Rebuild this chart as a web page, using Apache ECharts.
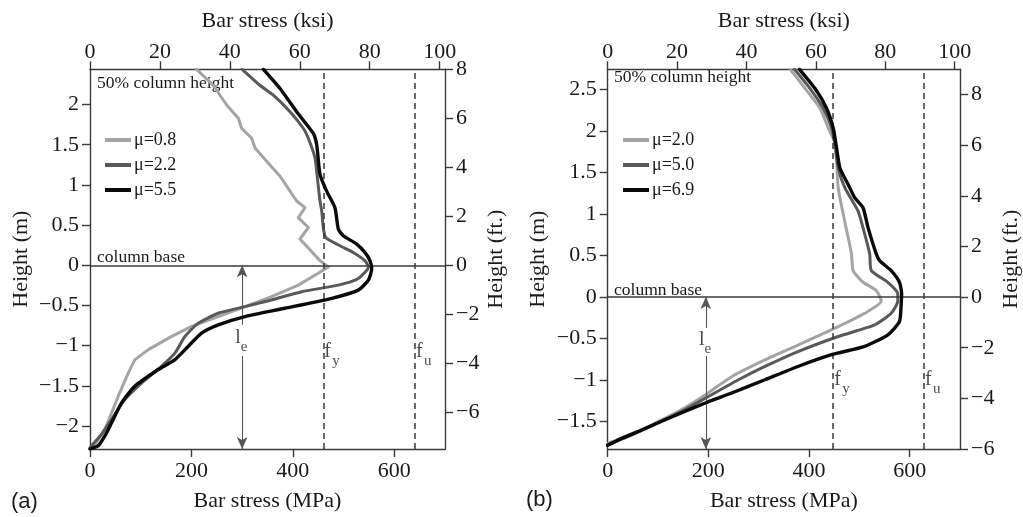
<!DOCTYPE html>
<html><head><meta charset="utf-8">
<script src="https://cdn.jsdelivr.net/npm/echarts@6/dist/echarts.min.js"></script>
<style>html,body{margin:0;padding:0;background:#fff}#c{width:1023px;height:517px}</style>
</head><body><div id="c"></div>
<script>
// ---------- data ----------
const MPA_PER_KSI = 6.895;
const M_PER_FT = 0.3048;

// panel (a): [bar stress (MPa), height (m)]
const aNames = ['μ=0.8', 'μ=2.2', 'μ=5.5'];
const aMu08 = [[210,2.438],[243,2.24],[269.5,1.994],[292.5,1.83],[299,1.705],[318.8,1.58],[325.4,1.458],[348.4,1.293],[374.7,1.108],[394.4,0.923],[407.5,0.80],[424,0.717],[410.8,0.593],[430.5,0.47],[414,0.326],[453.5,0.058],[470,-0.02],[450,-0.10],[410.8,-0.247],[358,-0.39],[305.6,-0.514],[253,-0.638],[200.5,-0.761],[161,-0.885],[115,-1.05],[88.7,-1.174],[75.6,-1.338],[55.9,-1.626],[42.8,-1.832],[29.6,-2.04],[13,-2.2],[0,-2.265]];
const aMu22 = [[300,2.438],[335,2.24],[361.5,2.117],[394.4,1.911],[420.6,1.705],[430.5,1.58],[443.7,1.334],[448.3,1.087],[453.5,0.80],[456.9,0.676],[460,0.47],[464.7,0.346],[493,0.243],[519,0.16],[542,0.058],[549,-0.02],[529,-0.164],[489.7,-0.247],[417.5,-0.329],[358,-0.432],[305.6,-0.514],[253,-0.597],[213.6,-0.72],[187.3,-0.885],[167.6,-1.09],[141.3,-1.255],[102,-1.462],[69,-1.668],[42.8,-1.915],[23,-2.1],[3.3,-2.244],[0,-2.28]];
const aMu55 = [[342,2.438],[374.7,2.20],[407.5,1.91],[440,1.643],[447,1.50],[453.5,1.13],[466.6,0.923],[483,0.717],[489.7,0.45],[499.5,0.367],[525.8,0.264],[542,0.16],[552,0.058],[555.5,-0.04],[549,-0.185],[529,-0.309],[476.6,-0.411],[384.5,-0.535],[305.6,-0.638],[253,-0.741],[220,-0.844],[193.9,-1.008],[167.6,-1.174],[134.8,-1.297],[88.7,-1.503],[62.5,-1.709],[42.8,-1.956],[29.6,-2.12],[16.4,-2.244],[0,-2.286]];
const aFy = 460, aFu = 641, aLe = 300;
const aHeightFt = [-7.5, 8];

// panel (b)
const bNames = ['μ=2.0', 'μ=5.0', 'μ=6.9'];
const bMu20 = [[362.8,2.743],[392.4,2.511],[422,2.272],[438.4,2.033],[450.2,1.873],[454.8,1.634],[458,1.315],[468,0.997],[477.8,0.717],[484.4,0.519],[487.7,0.319],[507.4,0.179],[533.7,0.08],[543.5,-0.048],[510.7,-0.195],[451.6,-0.374],[379.2,-0.574],[313.5,-0.753],[247.7,-0.952],[195.2,-1.172],[142.6,-1.37],[103,-1.49],[50.5,-1.65],[4.5,-1.75],[0,-1.77]];
const bMu50 = [[371,2.743],[402,2.511],[428.5,2.272],[445,2.033],[452.8,1.793],[458,1.554],[471.3,1.315],[497.5,1.036],[510.7,0.758],[520.6,0.519],[523.8,0.319],[556.7,0.179],[576.4,0.04],[576.4,-0.048],[563.2,-0.195],[530.5,-0.335],[458,-0.474],[379.2,-0.653],[313.5,-0.832],[260.9,-0.992],[201.7,-1.191],[149,-1.37],[105,-1.50],[55,-1.64],[20,-1.73],[0,-1.78]];
const bMu69 = [[381,2.743],[412,2.511],[435,2.272],[448.2,2.033],[454.8,1.793],[461.4,1.554],[477.8,1.356],[491,1.196],[507.4,1.076],[517.3,0.837],[533.7,0.519],[540.3,0.439],[563.2,0.319],[579.7,0.179],[584,0.04],[583,-0.096],[579.7,-0.294],[556.7,-0.454],[510.7,-0.593],[444.9,-0.693],[379.2,-0.832],[313.5,-0.992],[247.7,-1.152],[195.2,-1.272],[116.3,-1.47],[63.7,-1.609],[24.3,-1.71],[0,-1.785]];
const bFy = 448, bFu = 628.5, bLe = 195;
const bHeightFt = [-6, 9];

// ticks
const stressTicksMPa = [0, 200, 400, 600];
const stressTicksKsi = [0, 20, 40, 60, 80, 100];
const aTicksM = [-2, -1.5, -1, -0.5, 0, 0.5, 1, 1.5, 2];
const bTicksM = [-1.5, -1, -0.5, 0, 0.5, 1, 1.5, 2, 2.5];
const ticksFt = [-6, -4, -2, 0, 2, 4, 6, 8];
const STRESS_MAX = 700;

// ---------- styling ----------
const SERIF = 'Liberation Serif';
const SANS = 'Liberation Sans';
const INK = '#1a1a1a';
const FRAME = '#3a3a3a';
const COLORS = ['#a4a4a4', '#595959', '#0a0a0a'];
const WIDTHS = [3, 3, 3.4];

function fmt(v) { return String(+Number(v).toFixed(3)).replace('-', '\u2212'); }

function axis(o) {
  return {
    type: 'value', gridIndex: o.grid, position: o.position,
    min: o.min, max: o.max,
    name: o.name, nameLocation: 'middle', nameGap: o.nameGap, nameRotate: o.rotate || 0,
    nameTextStyle: { color: INK, fontFamily: SERIF, fontSize: 22 },
    axisLine: { show: true, onZero: false, lineStyle: { color: FRAME, width: 1.4 } },
    axisTick: { show: true, length: 8, customValues: o.ticks, lineStyle: { color: FRAME, width: 1.4 } },
    axisLabel: { show: true, customValues: o.ticks, margin: o.margin, color: INK, fontFamily: SERIF, fontSize: 22, formatter: fmt },
    splitLine: { show: false }
  };
}

const panels = [
  { grid: 0, left: 90, ft: aHeightFt, ticksM: aTicksM, names: aNames, data: [aMu08, aMu22, aMu55], smooth: [false, 0.2, 0.2], fy: aFy, fu: aFu, le: aLe,
    leTop: -0.74, leBot: -1.13, leLabel: -0.93, fLabel: -1.1, legendLeft: 105, legendTop: 131 },
  { grid: 1, left: 607.7, ft: bHeightFt, ticksM: bTicksM, names: bNames, data: [bMu20, bMu50, bMu69], smooth: [0.2, 0.2, 0.2], fy: bFy, fu: bFu, le: bLe,
    leTop: -0.37, leBot: -0.71, leLabel: -0.54, fLabel: -1.02, legendLeft: 623, legendTop: 131 }
];

const grids = [], xAxes = [], yAxes = [], series = [], legends = [];
panels.forEach((p, i) => {
  grids.push({ left: p.left, width: 355, top: 69.3, height: 382.4, containLabel: false });
  xAxes.push(axis({ grid: i, position: 'bottom', min: 0, max: STRESS_MAX, name: 'Bar stress (MPa)', nameGap: 41, ticks: stressTicksMPa, margin: 11 }));
  xAxes.push(axis({ grid: i, position: 'top', min: 0, max: STRESS_MAX / MPA_PER_KSI, name: 'Bar stress (ksi)', nameGap: 37, ticks: stressTicksKsi, margin: 6 }));
  yAxes.push(axis({ grid: i, position: 'left', min: p.ft[0] * M_PER_FT, max: p.ft[1] * M_PER_FT, name: 'Height (m)', nameGap: 58, rotate: 90, ticks: p.ticksM, margin: 11 }));
  yAxes.push(axis({ grid: i, position: 'right', min: p.ft[0], max: p.ft[1], name: 'Height (ft.)', nameGap: 40, rotate: 90, ticks: ticksFt, margin: 11 }));
  const xi = i * 2, yi = i * 2;
  const yMin = p.ft[0] * M_PER_FT;

  // reference lines + f labels
  series.push({
    type: 'scatter', xAxisIndex: xi, yAxisIndex: yi, symbolSize: 0, z: 1, silent: true,
    data: [
      { value: [p.fy, p.fLabel], label: { show: true, formatter: 'f', position: 'right', distance: 1, offset: [0, -2], fontFamily: SERIF, fontSize: 20, color: INK } },
      { value: [p.fy, p.fLabel], label: { show: true, formatter: 'y', position: 'right', distance: 1, offset: [8, 7], fontFamily: SERIF, fontSize: 15, color: INK } },
      { value: [p.fu, p.fLabel], label: { show: true, formatter: 'f', position: 'right', distance: 1, offset: [0, -2], fontFamily: SERIF, fontSize: 20, color: INK } },
      { value: [p.fu, p.fLabel], label: { show: true, formatter: 'u', position: 'right', distance: 1, offset: [8, 7], fontFamily: SERIF, fontSize: 15, color: INK } }
    ],
    markLine: {
      silent: true, symbol: 'none', animation: false, label: { show: false },
      data: [
        { yAxis: 0, lineStyle: { color: '#3a3a3a', width: 1.5, type: 'solid' } },
        { xAxis: p.fy, lineStyle: { color: '#3a3a3a', width: 1.5, type: [6, 4] } },
        { xAxis: p.fu, lineStyle: { color: '#3a3a3a', width: 1.5, type: [6, 4] } }
      ]
    }
  });
  // l_e arrow
  series.push({
    type: 'scatter', xAxisIndex: xi, yAxisIndex: yi, symbolSize: 0, z: 1, silent: true,
    data: [
      { value: [p.le, p.leLabel], label: { show: true, formatter: 'l', position: 'inside', offset: [-4, -2], fontFamily: SERIF, fontSize: 20, color: INK } },
      { value: [p.le, p.leLabel], label: { show: true, formatter: 'e', position: 'inside', offset: [2, 7], fontFamily: SERIF, fontSize: 15, color: INK } }
    ],
    markLine: {
      silent: true, symbol: ['none', 'arrow'], symbolSize: [8, 12], animation: false, label: { show: false },
      lineStyle: { color: '#555', width: 1.1, type: 'solid' },
      data: [
        [{ coord: [p.le, p.leTop] }, { coord: [p.le, 0] }],
        [{ coord: [p.le, p.leBot] }, { coord: [p.le, yMin] }]
      ]
    }
  });
  // curves
  p.names.forEach((n, k) => {
    series.push({
      name: n, type: 'line', xAxisIndex: xi, yAxisIndex: yi, data: p.data[k], z: 3 + k,
      showSymbol: false, symbol: 'none', smooth: p.smooth[k],
      color: COLORS[k],
      lineStyle: { color: COLORS[k], width: WIDTHS[k], join: 'round', cap: 'round' },
      itemStyle: { color: COLORS[k] }
    });
  });
  legends.push({
    data: p.names, orient: 'vertical', left: p.legendLeft, top: p.legendTop,
    icon: 'rect', itemWidth: 26, itemHeight: 4, itemGap: 7, selectedMode: false,
    padding: 0, textStyle: { fontFamily: SERIF, fontSize: 18, color: INK, padding: [0, 0, 0, -2] }
  });
});

const graphic = [
  { type: 'text', left: 97, top: 74, style: { text: '50% column height', font: '17.5px "Liberation Serif"', fill: INK } },
  { type: 'text', left: 614, top: 68, style: { text: '50% column height', font: '17.5px "Liberation Serif"', fill: INK } },
  { type: 'text', left: 97, top: 248, style: { text: 'column base', font: '17.5px "Liberation Serif"', fill: INK } },
  { type: 'text', left: 614, top: 281, style: { text: 'column base', font: '17.5px "Liberation Serif"', fill: INK } },
  { type: 'text', left: 11, top: 491, style: { text: '(a)', font: '22px "Liberation Sans"', fill: INK } },
  { type: 'text', left: 526, top: 489, style: { text: '(b)', font: '22px "Liberation Sans"', fill: INK } }
];

const chart = echarts.init(document.getElementById('c'), null, { renderer: 'canvas' });
chart.setOption({
  animation: false,
  backgroundColor: '#ffffff',
  grid: grids, xAxis: xAxes, yAxis: yAxes, series: series, legend: legends, graphic: graphic
});
</script>
</body></html>
